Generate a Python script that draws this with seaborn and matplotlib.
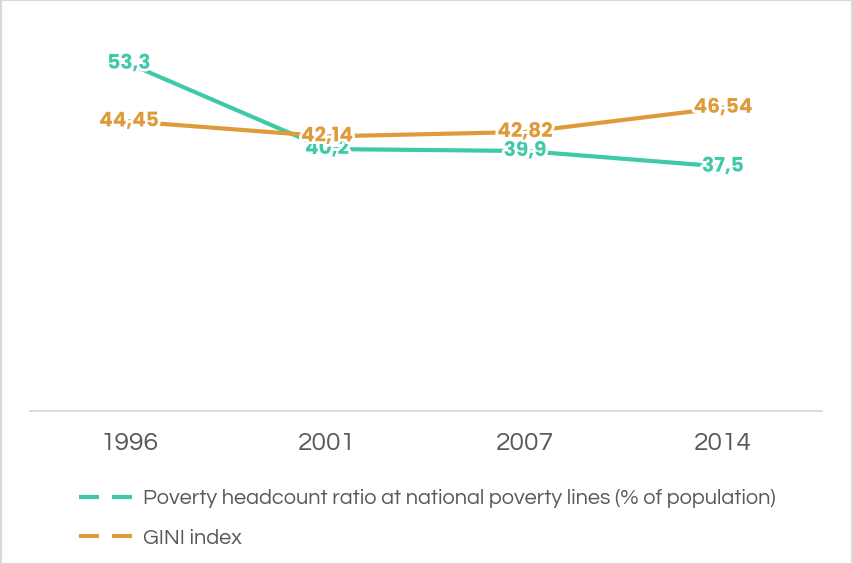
import matplotlib
matplotlib.use("Agg")
import matplotlib.pyplot as plt
import matplotlib.patheffects as pe
import seaborn as sns
import pandas as pd
from matplotlib.lines import Line2D
from matplotlib.patches import Rectangle

years = ["1996", "2001", "2007", "2014"]
poverty = [53.3, 40.2, 39.9, 37.5]
gini = [44.45, 42.14, 42.82, 46.54]
series_names = ["Poverty headcount ratio at national poverty lines (% of population)",
                "GINI index"]
colors = ["#3FC9A8", "#DE9B3B"]

df = pd.DataFrame({
    "pos": list(range(len(years))) * 2,
    "value": poverty + gini,
    "series": [series_names[0]] * len(years) + [series_names[1]] * len(years),
})

sns.set_theme(style="white")
body_font = ["Questrial", "DejaVu Sans"]
label_font = ["Poppins", "DejaVu Sans"]
plt.rcParams["font.family"] = body_font

fig = plt.figure(figsize=(8.54, 5.64), dpi=100)
ax = fig.add_axes([0.0351, 0.2713, 0.9274, 0.6932])

sns.lineplot(data=df, x="pos", y="value", hue="series", palette=colors,
             linewidth=3, legend=False, ax=ax, sort=False)

ax.set_xlim(-0.5, len(years) - 0.5)
ax.set_ylim(0, 60)
ax.set_xticks(range(len(years)))
ax.set_xticklabels(years, fontsize=19, color="#595959")
ax.tick_params(axis="x", length=0, pad=15)
ax.set_yticks([])
ax.set_xlabel("")
ax.set_ylabel("")
for side in ["top", "left", "right"]:
    ax.spines[side].set_visible(False)
ax.spines["bottom"].set_color("#D9D9D9")
ax.spines["bottom"].set_linewidth(1.3)

# value labels sitting on each point, with a white halo so lines don't run through them
halo = [pe.withStroke(linewidth=4, foreground="white")]
for vals, col, z in zip([poverty, gini], colors, [5, 6]):
    for i, v in enumerate(vals):
        ax.text(i, v, f"{v:g}".replace(".", ","), ha="center", va="center",
                fontsize=14.5, fontweight="bold", color=col, family=label_font,
                path_effects=halo, zorder=z)

handles = [Line2D([0], [0], color=c, linewidth=3, linestyle=(0, (4.8, 3.1)))
           for c in colors]
leg = fig.legend(handles, series_names, loc="upper left",
                 bbox_to_anchor=(0.07, 0.168), frameon=False,
                 fontsize=15.7, handlelength=2.9, handletextpad=0.0,
                 labelspacing=0.95, labelcolor="#595959")

fig.patches.append(Rectangle((0.001, 0.0), 0.997, 1.0, transform=fig.transFigure,
                             fill=False, edgecolor="#D9D9D9", linewidth=1.5))

fig.savefig("out.png", dpi=100)
